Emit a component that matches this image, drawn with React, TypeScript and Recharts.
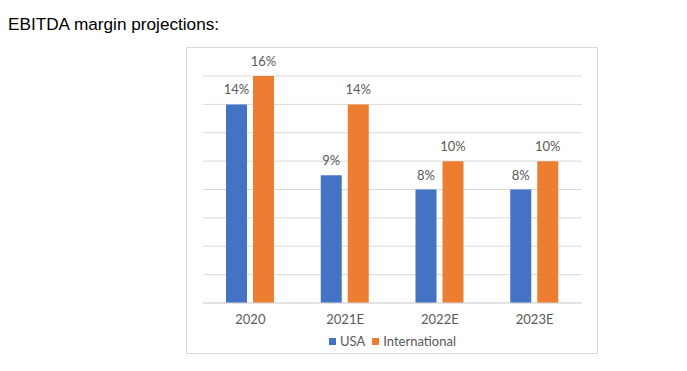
import React from 'react';
import {BarChart, Bar, XAxis, YAxis, CartesianGrid, Legend, LabelList} from 'recharts';

const categories = ['2020', '2021E', '2022E', '2023E'];
const usa = [14, 9, 8, 8];
const international = [16, 14, 10, 10];
const yTicks = [0, 2, 4, 6, 8, 10, 12, 14, 16];

const BLUE = '#4472C4';
const ORANGE = '#ED7D31';
const FONT = 'Lato, "Open Sans", sans-serif';

const data = categories.map((name, i) => ({name, usa: usa[i], international: international[i]}));

const LegendContent = () => (
    <div style={{display: 'flex', justifyContent: 'center', alignItems: 'center', fontFamily: FONT, fontSize: 13, color: '#595959', height: 20}}>
        <span style={{width: 7, height: 7, background: BLUE, display: 'inline-block', marginRight: 4}} />
        <span style={{marginRight: 7}}>USA</span>
        <span style={{width: 7, height: 7, background: ORANGE, display: 'inline-block', marginRight: 4}} />
        <span>International</span>
    </div>
);

const App = () => {
    return (
        <div style={{position: 'absolute', left: 0, top: 0, width: 687, height: 371, background: '#fff'}}>
            <div style={{position: 'absolute', left: 8, top: 14, fontFamily: '"Liberation Sans", Arial, sans-serif', fontSize: 17.2, color: '#000', lineHeight: 'normal'}}>
                EBITDA margin projections:
            </div>
            <div style={{position: 'absolute', left: 186, top: 47, border: '1px solid #d9d9d9', width: 410, height: 305}}>
                <BarChart width={410} height={305} data={data}
                          margin={{top: 28, right: 15, left: 16, bottom: 2}}
                          barCategoryGap={23} barGap={6}>
                    <CartesianGrid horizontal={true} vertical={false} stroke="#d9d9d9" />
                    <XAxis dataKey="name" height={28} axisLine={{stroke: '#d9d9d9'}} tickLine={false} tickMargin={6}
                           tick={{fill: '#595959', fontSize: 13, fontFamily: FONT}} />
                    <YAxis hide domain={[0, 16]} ticks={yTicks} />
                    <Legend verticalAlign="bottom" height={20} content={<LegendContent />} />
                    <Bar dataKey="usa" name="USA" fill={BLUE} isAnimationActive={false}>
                        <LabelList dataKey="usa" position="top" offset={10} formatter={(v: any) => `${v}%`}
                                   style={{fill: '#595959', fontSize: 13, fontFamily: FONT}} />
                    </Bar>
                    <Bar dataKey="international" name="International" fill={ORANGE} isAnimationActive={false}>
                        <LabelList dataKey="international" position="top" offset={10} formatter={(v: any) => `${v}%`}
                                   style={{fill: '#595959', fontSize: 13, fontFamily: FONT}} />
                    </Bar>
                </BarChart>
            </div>
        </div>
    );
};

export default App;
